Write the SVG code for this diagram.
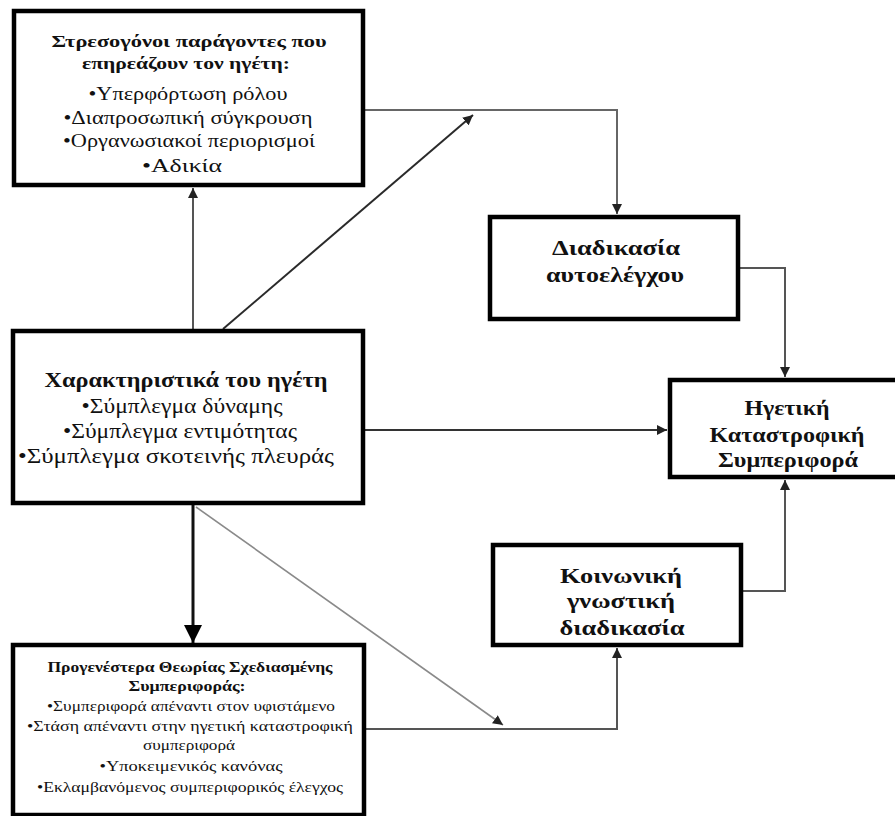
<svg xmlns="http://www.w3.org/2000/svg" width="895" height="816" viewBox="0 0 895 816">
  <style>
    .box { fill: #ffffff; stroke: #000000; stroke-width: 4.5; }
    .t { font-family: "Liberation Serif", "Times New Roman", serif; fill: #111111; text-anchor: middle; }
    .b { font-weight: bold; }
    .wire { fill: none; stroke: #555555; stroke-width: 2; }
  </style>
  <defs>
    <marker id="tip" markerUnits="userSpaceOnUse" markerWidth="10" markerHeight="10" refX="10" refY="5" orient="auto">
      <path d="M0,0 L10,5 L0,10 z" fill="#222222"/>
    </marker>
    <marker id="tipBig" markerUnits="userSpaceOnUse" markerWidth="18" markerHeight="18" refX="18" refY="9" orient="auto">
      <path d="M0,0 L18,9 L0,18 z" fill="#000000"/>
    </marker>
  </defs>

  <g id="connectors">
    <path class="wire" d="M193,329 V188" marker-end="url(#tip)"/>
    <path class="wire" d="M223,329 L473,115" style="stroke:#2a2a2a" marker-end="url(#tip)"/>
    <path class="wire" d="M365,110 H617 V214" style="stroke:#666666" marker-end="url(#tip)"/>
    <path class="wire" d="M740,268 H785 V377" marker-end="url(#tip)"/>
    <path class="wire" d="M365,430 H667" style="stroke:#333333" marker-end="url(#tip)"/>
    <path class="wire" d="M743,591 H785 V480" marker-end="url(#tip)"/>
    <path class="wire" d="M193,505 V643" style="stroke:#111111;stroke-width:3" marker-end="url(#tipBig)"/>
    <path class="wire" d="M196,507 L503,725" style="stroke:#8a8a8a;stroke-width:1.6" marker-end="url(#tip)"/>
    <path class="wire" d="M366,729 H617 V648" marker-end="url(#tip)"/>
  </g>

  <g id="stressors">
    <rect class="box" x="14" y="11" width="349" height="174"/>
    <text class="t b" x="189" y="47" font-size="17" textLength="275" lengthAdjust="spacingAndGlyphs">Στρεσογόνοι παράγοντες που</text>
    <text class="t b" x="186" y="69" font-size="17" textLength="208" lengthAdjust="spacingAndGlyphs">επηρεάζουν τον ηγέτη:</text>
    <text class="t" x="188" y="100" font-size="18" textLength="199" lengthAdjust="spacingAndGlyphs">•Υπερφόρτωση ρόλου</text>
    <text class="t" x="188" y="124" font-size="18" textLength="249" lengthAdjust="spacingAndGlyphs">•Διαπροσωπική σύγκρουση</text>
    <text class="t" x="189" y="147" font-size="18" textLength="252" lengthAdjust="spacingAndGlyphs">•Οργανωσιακοί περιορισμοί</text>
    <text class="t" x="182" y="172" font-size="18" textLength="80" lengthAdjust="spacingAndGlyphs">•Αδικία</text>
  </g>

  <g id="self-control">
    <rect class="box" x="490" y="217" width="248" height="102"/>
    <text class="t b" x="616" y="255" font-size="20" textLength="128" lengthAdjust="spacingAndGlyphs">Διαδικασία</text>
    <text class="t b" x="615" y="282" font-size="20" textLength="138" lengthAdjust="spacingAndGlyphs">αυτοελέγχου</text>
  </g>

  <g id="leader-traits">
    <rect class="box" x="13" y="331" width="350" height="172"/>
    <text class="t b" x="186" y="387" font-size="20" textLength="283" lengthAdjust="spacingAndGlyphs">Χαρακτηριστικά του ηγέτη</text>
    <text class="t" x="182" y="413" font-size="20" textLength="201" lengthAdjust="spacingAndGlyphs">•Σύμπλεγμα δύναμης</text>
    <text class="t" x="180" y="438" font-size="20" textLength="234" lengthAdjust="spacingAndGlyphs">•Σύμπλεγμα εντιμότητας</text>
    <text class="t" x="176" y="463" font-size="20" textLength="316" lengthAdjust="spacingAndGlyphs">•Σύμπλεγμα σκοτεινής πλευράς</text>
  </g>

  <g id="destructive-behaviour">
    <rect class="box" x="670" y="380" width="235" height="97"/>
    <text class="t b" x="787" y="415" font-size="20" textLength="85" lengthAdjust="spacingAndGlyphs">Ηγετική</text>
    <text class="t b" x="787" y="442" font-size="20" textLength="155" lengthAdjust="spacingAndGlyphs">Καταστροφική</text>
    <text class="t b" x="788" y="467" font-size="20" textLength="140" lengthAdjust="spacingAndGlyphs">Συμπεριφορά</text>
  </g>

  <g id="social-cognitive">
    <rect class="box" x="493" y="545" width="248" height="100"/>
    <text class="t b" x="621" y="583" font-size="22" textLength="122" lengthAdjust="spacingAndGlyphs">Κοινωνική</text>
    <text class="t b" x="621" y="608" font-size="22" textLength="108" lengthAdjust="spacingAndGlyphs">γνωστική</text>
    <text class="t b" x="622" y="635" font-size="22" textLength="125" lengthAdjust="spacingAndGlyphs">διαδικασία</text>
  </g>

  <g id="planned-behaviour">
    <rect class="box" x="13" y="645" width="351" height="170"/>
    <text class="t b" x="190" y="672" font-size="14" textLength="285" lengthAdjust="spacingAndGlyphs">Προγενέστερα Θεωρίας Σχεδιασμένης</text>
    <text class="t b" x="187" y="691" font-size="14" textLength="117" lengthAdjust="spacingAndGlyphs">Συμπεριφοράς:</text>
    <text class="t" x="191" y="711" font-size="14" textLength="288" lengthAdjust="spacingAndGlyphs">•Συμπεριφορά απέναντι στον υφιστάμενο</text>
    <text class="t" x="190" y="731" font-size="14" textLength="326" lengthAdjust="spacingAndGlyphs">•Στάση απέναντι στην ηγετική καταστροφική</text>
    <text class="t" x="189" y="750" font-size="14" textLength="92" lengthAdjust="spacingAndGlyphs">συμπεριφορά</text>
    <text class="t" x="191" y="771" font-size="14" textLength="183" lengthAdjust="spacingAndGlyphs">•Υποκειμενικός κανόνας</text>
    <text class="t" x="190" y="792" font-size="14" textLength="306" lengthAdjust="spacingAndGlyphs">•Εκλαμβανόμενος συμπεριφορικός έλεγχος</text>
  </g>
</svg>
